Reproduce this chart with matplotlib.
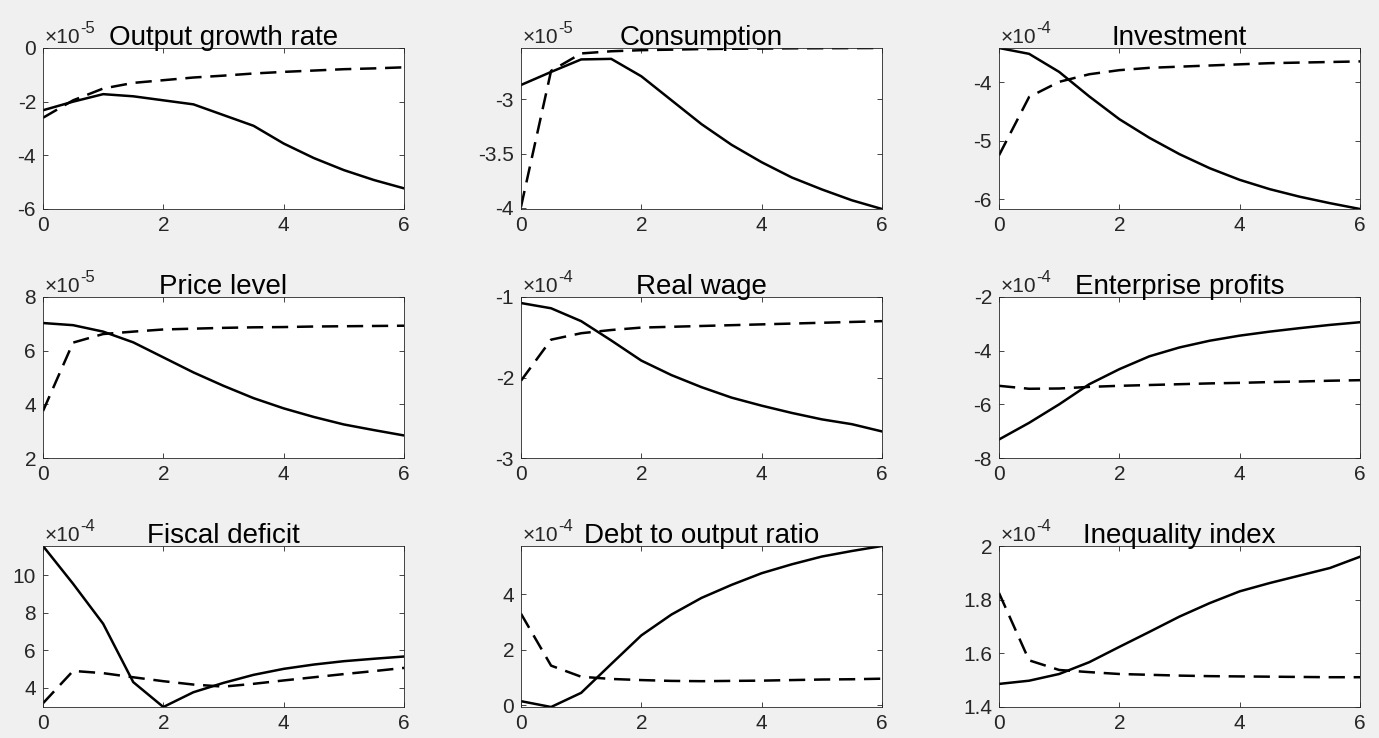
import matplotlib

matplotlib.use("Agg")
import matplotlib.pyplot as plt
from matplotlib.ticker import FuncFormatter

plt.rcParams["font.family"] = ["Liberation Sans", "DejaVu Sans"]
plt.rcParams["axes.unicode_minus"] = False

# horizon (quarters)
t = [0, 0.5, 1, 1.5, 2, 2.5, 3, 3.5, 4, 4.5, 5, 5.5, 6]

titles = ["Output growth rate", "Consumption", "Investment",
          "Price level", "Real wage", "Enterprise profits",
          "Fiscal deficit", "Debt to output ratio", "Inequality index"]
exponents = [-5, -5, -4, -5, -4, -4, -4, -4, -4]

# values in units of 10^exponent
output_solid = [-2.32, -2.0, -1.72, -1.8, -1.95, -2.1, -2.5, -2.9, -3.56, -4.1, -4.55, -4.92, -5.23]
output_dash = [-2.6, -1.95, -1.51, -1.3, -1.2, -1.1, -1.03, -0.95, -0.89, -0.84, -0.79, -0.76, -0.72]
cons_solid = [-2.87, -2.75, -2.635, -2.63, -2.79, -3.01, -3.23, -3.42, -3.58, -3.72, -3.83, -3.93, -4.01]
cons_dash = [-3.99, -2.74, -2.58, -2.56, -2.55, -2.545, -2.54, -2.537, -2.535, -2.533, -2.532, -2.531, -2.53]
inv_solid = [-3.41, -3.51, -3.82, -4.24, -4.63, -4.95, -5.23, -5.47, -5.67, -5.83, -5.96, -6.07, -6.17]
inv_dash = [-5.25, -4.25, -3.99, -3.86, -3.79, -3.75, -3.73, -3.71, -3.69, -3.67, -3.66, -3.65, -3.64]
price_solid = [7.03, 6.95, 6.71, 6.31, 5.75, 5.19, 4.69, 4.23, 3.85, 3.53, 3.25, 3.04, 2.84]
price_dash = [3.75, 6.3, 6.62, 6.71, 6.79, 6.82, 6.85, 6.87, 6.88, 6.9, 6.91, 6.92, 6.93]
wage_solid = [-1.075, -1.14, -1.3, -1.54, -1.79, -1.97, -2.12, -2.25, -2.35, -2.44, -2.52, -2.58, -2.67]
wage_dash = [-2.04, -1.53, -1.45, -1.41, -1.38, -1.37, -1.36, -1.35, -1.34, -1.33, -1.32, -1.31, -1.30]
profit_solid = [-7.31, -6.69, -6.0, -5.25, -4.69, -4.21, -3.88, -3.63, -3.44, -3.29, -3.16, -3.04, -2.94]
profit_dash = [-5.31, -5.42, -5.41, -5.35, -5.31, -5.28, -5.25, -5.22, -5.2, -5.17, -5.15, -5.12, -5.1]
deficit_solid = [11.57, 9.55, 7.41, 4.29, 2.96, 3.75, 4.25, 4.68, 5.0, 5.23, 5.41, 5.54, 5.66]
deficit_dash = [3.16, 4.89, 4.77, 4.55, 4.34, 4.16, 4.05, 4.2, 4.38, 4.55, 4.72, 4.88, 5.05]
debt_solid = [0.14, -0.07, 0.44, 1.48, 2.51, 3.26, 3.86, 4.33, 4.75, 5.07, 5.35, 5.55, 5.73]
debt_dash = [3.29, 1.42, 1.02, 0.94, 0.9, 0.87, 0.86, 0.87, 0.88, 0.9, 0.92, 0.93, 0.95]
ineq_solid = [1.486, 1.498, 1.523, 1.567, 1.624, 1.68, 1.737, 1.787, 1.831, 1.862, 1.89, 1.918, 1.96]
ineq_dash = [1.825, 1.574, 1.538, 1.53, 1.523, 1.52, 1.517, 1.515, 1.514, 1.513, 1.512, 1.511, 1.511]

solid = [output_solid, cons_solid, inv_solid, price_solid, wage_solid,
         profit_solid, deficit_solid, debt_solid, ineq_solid]
dashed = [output_dash, cons_dash, inv_dash, price_dash, wage_dash,
          profit_dash, deficit_dash, debt_dash, ineq_dash]

ylims = [(-6, 0), (-4.01, -2.53), (-6.17, -3.41), (2, 8), (-3, -1),
         (-8, -2), (2.96, 11.57), (-0.07, 5.73), (1.4, 2.0)]
yticks = [[-6, -4, -2, 0], [-4, -3.5, -3], [-6, -5, -4], [2, 4, 6, 8],
          [-3, -2, -1], [-8, -6, -4, -2], [4, 6, 8, 10], [0, 2, 4],
          [1.4, 1.6, 1.8, 2]]

W, H = 1379, 738
fig = plt.figure(figsize=(W / 100, H / 100), dpi=100, facecolor="#f0f0f0")
lefts = [43, 521, 999]
tops = [48, 297, 546]
aw, ah = 361, 161
ink = "#262626"

for i in range(9):
    r, c = divmod(i, 3)
    ax = fig.add_axes([lefts[c] / W, 1 - (tops[r] + ah) / H, aw / W, ah / H])
    ax.plot(t, solid[i], "-", color="black", lw=1.8)
    ax.plot(t, dashed[i], color="black", lw=1.8, ls=(0, (6.5, 3.5)))
    ax.set_xlim(0, 6)
    ax.set_ylim(*ylims[i])
    ax.set_xticks([0, 2, 4, 6])
    ax.set_yticks(yticks[i])
    ax.yaxis.set_major_formatter(FuncFormatter(lambda v, p: f"{v:g}"))
    ax.tick_params(direction="in", length=3.5, width=0.6, top=True, right=True,
                   labelsize=15, colors=ink, pad=5)
    for s in ax.spines.values():
        s.set_color(ink)
        s.set_linewidth(0.6)
    ax.set_title(titles[i], fontsize=20, pad=2, color="black")
    base = ax.text(0.005, 1.005, "\u00d710", transform=ax.transAxes, fontsize=15,
                   color=ink, ha="left", va="bottom")
    ax.annotate(str(exponents[i]), xy=(1, 0.6), xycoords=base, fontsize=12,
                color=ink, ha="left", va="bottom")

fig.savefig("out.png", dpi=100, facecolor=fig.get_facecolor())
